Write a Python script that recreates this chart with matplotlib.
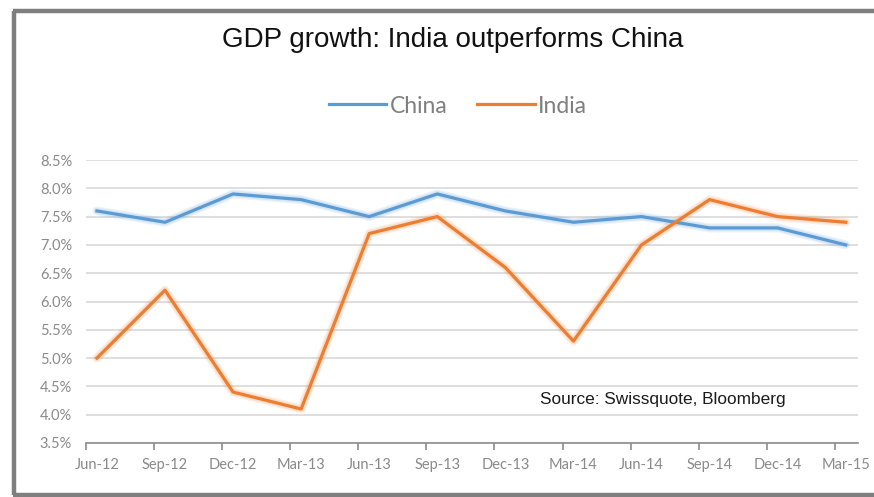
import matplotlib
matplotlib.use("Agg")
import matplotlib.pyplot as plt
import numpy as np
from matplotlib.lines import Line2D
from matplotlib.ticker import FixedLocator, FuncFormatter

QUARTERS = ["Jun-12", "Sep-12", "Dec-12", "Mar-13", "Jun-13", "Sep-13",
            "Dec-13", "Mar-14", "Jun-14", "Sep-14", "Dec-14", "Mar-15"]
CHINA = [7.6, 7.4, 7.9, 7.8, 7.5, 7.9, 7.6, 7.4, 7.5, 7.3, 7.3, 7.0]
INDIA = [5.0, 6.2, 4.4, 4.1, 7.2, 7.5, 6.6, 5.3, 7.0, 7.8, 7.5, 7.4]
Y_TICKS = [3.5, 4.0, 4.5, 5.0, 5.5, 6.0, 6.5, 7.0, 7.5, 8.0, 8.5]

BLUE = "#5B9BD5"
ORANGE = "#ED7D31"
GRID = "#D9D9D9"
LABEL_GREY = "#7F7F7F"
W, H = 874, 497

fig = plt.figure(figsize=(W / 100, H / 100), dpi=100)
fig.patch.set_facecolor("white")
ax = fig.add_axes([86 / W, 1 - 443 / H, (858 - 86) / W, (443 - 160) / H])

x = np.arange(len(QUARTERS))
for vals, color, label in ((CHINA, BLUE, "China"), (INDIA, ORANGE, "India")):
    ax.plot(x, vals, color=color, lw=6.5, alpha=0.12, solid_capstyle="round", zorder=3)
    ax.plot(x, vals, color=color, lw=4.5, alpha=0.15, solid_capstyle="round", zorder=3)
    ax.plot(x, vals, color=color, lw=2.3, label=label, zorder=4)

ax.set_xlim(-0.16, len(QUARTERS) - 1 + 0.18)
ax.set_ylim(Y_TICKS[0], Y_TICKS[-1])
ax.set_yticks(Y_TICKS)
ax.yaxis.set_major_formatter(FuncFormatter(lambda v, _: f"{v:.1f}%"))
ax.set_xticks(x)
ax.set_xticklabels(QUARTERS)
ax.xaxis.set_minor_locator(FixedLocator(x - 0.16))

ax.grid(axis="y", color=GRID, lw=1.2, zorder=0)
for side in ("left", "right", "top"):
    ax.spines[side].set_visible(False)
ax.spines["bottom"].set_color("#8C8C8C")
ax.spines["bottom"].set_linewidth(1.2)

ax.tick_params(axis="y", length=0, pad=10)
ax.tick_params(axis="x", which="major", length=0, pad=11)
ax.tick_params(axis="x", which="minor", length=5, width=1.2, color="#8C8C8C", direction="out")
for lbl in ax.get_yticklabels() + ax.get_xticklabels():
    lbl.set_fontfamily(["Lato", "DejaVu Sans"])
    lbl.set_fontsize(10.5)
    lbl.set_color("#8A8A8A")

ax.text(0.588, 0.152, "Source: Swissquote, Bloomberg", transform=ax.transAxes,
        family="Liberation Sans", fontsize=12.4, color="#1A1A1A", va="center", ha="left")

fig.text(453 / W, 1 - 40 / H, "GDP growth: India outperforms China",
         family="Liberation Sans", fontsize=20, color="#111111", ha="center", va="center")

handles = [Line2D([], [], color=BLUE, lw=2.3), Line2D([], [], color=ORANGE, lw=2.3)]
leg = fig.legend(handles, ["China", "India"], loc="center", bbox_to_anchor=(458 / W, 1 - 106 / H),
                 ncol=2, frameon=False, handlelength=2.5, handletextpad=0.15, columnspacing=1.3,
                 prop={"family": "Lato", "size": 16.5})
for t in leg.get_texts():
    t.set_color(LABEL_GREY)

# grey frame on left, top and bottom edges
frame = dict(color="#7F7F7F", lw=3.2, transform=fig.transFigure, solid_capstyle="butt")
fig.add_artist(Line2D([14 / W, 14 / W], [1 - 10.5 / H, 1 - 495 / H], **frame))
fig.add_artist(Line2D([12.5 / W, 1.0], [1 - 10.5 / H, 1 - 10.5 / H], **frame))
fig.add_artist(Line2D([12.5 / W, 1.0], [1 - 495 / H, 1 - 495 / H], **frame))

fig.savefig("out.png", dpi=100, facecolor="white")
